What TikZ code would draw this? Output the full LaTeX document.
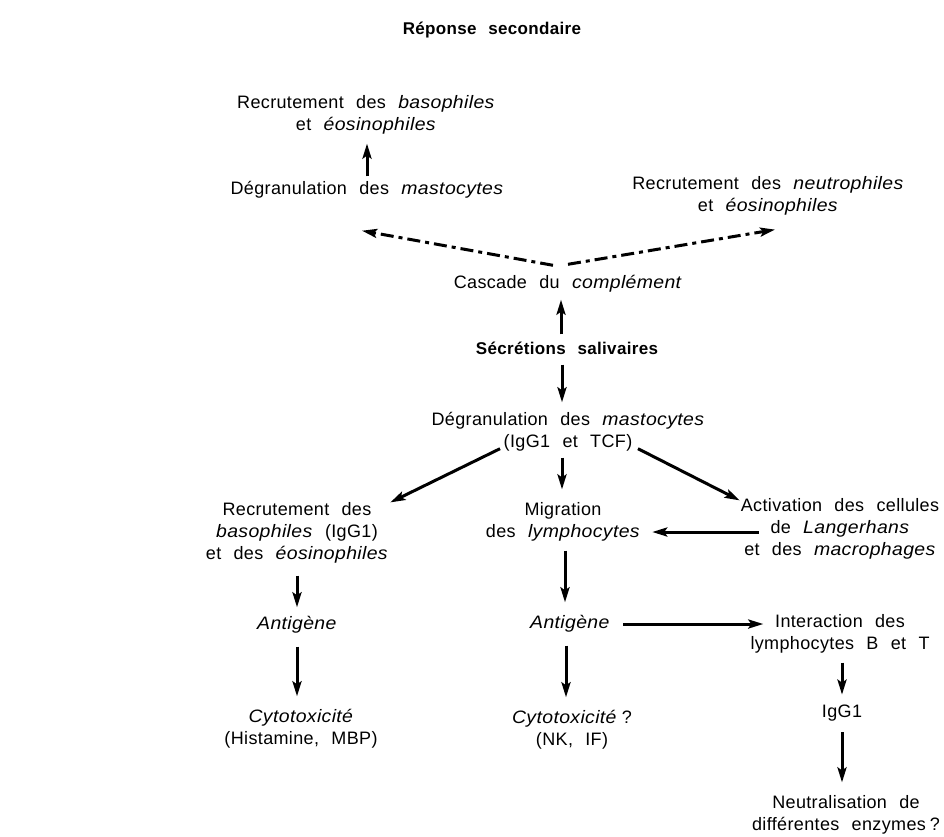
\documentclass[tikz,border=0pt]{standalone}
\usepackage{fontspec}
\setmainfont{Liberation Sans}[LetterSpace=2,WordSpace=2.3,Ligatures=NoCommon,ItalicFeatures={FakeStretch=1.08}]
\usetikzlibrary{arrows.meta}

\tikzset{
  lbl/.style={align=center,inner sep=0pt,font=\fontsize{18}{22}\selectfont},
  titre/.style={lbl,font=\fontsize{17}{22}\selectfont\bfseries},
  arr/.style={line width=3pt,-{Stealth[length=15pt,width=9pt,inset=3pt]}},
  dasharr/.style={arr,dash pattern=on 13pt off 5pt on 4pt off 5pt},
}

\begin{document}
\begin{tikzpicture}[x=1pt,y=-1pt]
\useasboundingbox (0,0) rectangle (944,836);

%% Reponse secondaire
\node[titre] (repSec) at (492,30) {Réponse secondaire};
\node[lbl] (recBas) at (366,115) {Recrutement des \textit{basophiles}\\et \textit{éosinophiles}};
\node[lbl] (degHaut) at (367,190) {Dégranulation des \textit{mastocytes}};
\node[lbl] (recNeut) at (768,196) {Recrutement des \textit{neutrophiles}\\et \textit{éosinophiles}};
\node[lbl] (cascade) at (568,284) {Cascade du \textit{complément}};

\draw[arr,shorten <=5pt,shorten >=9pt] (degHaut.north) -- (degHaut.north |- recBas.south);
\draw[dasharr] ([shift={(-15,-10)}]cascade.north) -- ([shift={(-5,32)}]degHaut.south);
\draw[dasharr] ([shift={(0,-11)}]cascade.north) -- ([shift={(7,14)}]recNeut.south);

%% Secretions salivaires
\node[titre] (secr) at (567,348) {Sécrétions salivaires};
\node[lbl] (degMast) at (568,432) {Dégranulation des \textit{mastocytes}\\(IgG1 et TCF)};

\draw[arr,shorten <=7pt,shorten >=7pt] ([xshift=-6pt]secr.north) -- ([xshift=-7pt]cascade.south);
\draw[arr,shorten <=10pt,shorten >=10pt] ([xshift=-5pt]secr.south) -- ([xshift=-6pt]degMast.north);

%% Trois voies
\node[lbl] (recBas2) at (297,533) {Recrutement des\\\textit{basophiles} (IgG1)\\et des \textit{éosinophiles}};
\node[lbl] (migr) at (563,522) {Migration\\des \textit{lymphocytes}};
\node[lbl] (activ) at (840,529) {Activation des cellules\\de \textit{Langerhans}\\et des \textit{macrophages}};

\draw[arr] ([shift={(-68,-3)}]degMast.south) -- ([shift={(2,0)}]recBas2.north east);
\draw[arr,shorten <=6pt,shorten >=13pt] ([xshift=-6pt]degMast.south) -- ([xshift=-1pt]migr.north);
\draw[arr] ([shift={(70,-3)}]degMast.south) -- ([shift={(-1,2)}]activ.north west);
\draw[arr] ([shift={(18,3)}]activ.west) -- ([shift={(12,10)}]migr.east);

%% Voie gauche
\node[lbl] (antiG) at (297,625) {\textit{Antigène}};
\node[lbl] (cytoG) at (301,729) {\textit{Cytotoxicité}\\(Histamine, MBP)};

\draw[arr,shorten <=12pt,shorten >=9pt] (recBas2.south) -- (antiG.north);
\draw[arr,shorten <=13pt,shorten >=13pt] (antiG.south) -- (antiG.south |- cytoG.north);

%% Voie centrale
\node[lbl] (antiM) at (570,624) {\textit{Antigène}};
\node[lbl] (cytoM) at (572,730) {\textit{Cytotoxicité}\hspace{5pt}?\\(NK, IF)};

\draw[arr,shorten <=9pt,shorten >=13pt] ([xshift=2pt]migr.south) -- ([xshift=-5pt]antiM.north);
\draw[arr,shorten <=13pt,shorten >=13pt] ([xshift=-4pt]antiM.south) -- ([xshift=-6pt]cytoM.north);

%% Voie droite
\node[lbl] (inter) at (840,634) {Interaction des\\lymphocytes B et T};
\node[lbl] (igg) at (842,713) {IgG1};
\node[lbl] (neutr) at (846,815) {Neutralisation de\\différentes enzymes\hspace{4pt}?};

\draw[arr,shorten <=13pt,shorten >=-13pt] (antiM.east) -- (antiM.east -| inter.west);
\draw[arr,shorten <=9pt,shorten >=10pt] ([xshift=2pt]inter.south) -- (igg.north);
\draw[arr,shorten <=11pt,shorten >=13pt] (igg.south) -- (igg.south |- neutr.north);

\end{tikzpicture}
\end{document}
